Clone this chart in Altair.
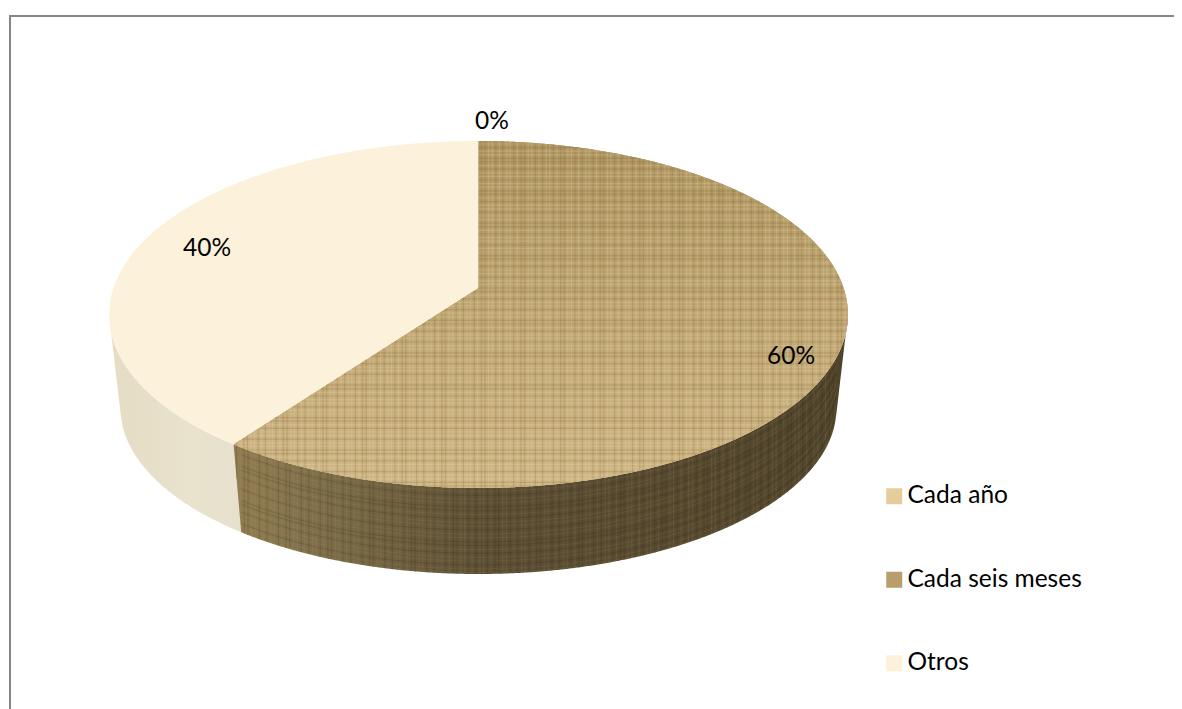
import numpy as np
import pandas as pd
import altair as alt

# chart values
categories = ["Cada año", "Cada seis meses", "Otros"]
shares = [0, 60, 40]
labels = ["0%", "60%", "40%"]
label_left = [492, 791, 207]
label_top = [122, 357, 249]
swatches = ["#e6cc98", "#b79e6b", "#fcf1da"]

W, H = 1166, 701
OX, OY = 8, 8  # page margin
CX, Y_APEX, Y_TOP, Y_FRONT = 478.5, 288.0, 141.0, 488.0
RX = 369.5
LOW_RX, LOW_RY, LOW_BOTTOM = 358.0, 166.0, 574.0

# perspective projection of the pie disc
cy = (Y_TOP + Y_FRONT) / 2
ry = (Y_FRONT - Y_TOP) / 2
fr, bk = Y_FRONT - Y_APEX, Y_APEX - Y_TOP
k = -(fr - bk) / (fr + bk)
b = fr * (1 + k)
a = RX * np.sqrt(1 - k * k)


def project(theta_deg):
    t = np.radians(theta_deg)
    u, v = np.sin(t), -np.cos(t)
    w = 1 + k * v
    return CX + a * u / w, Y_APEX + b * v / w


seam_x, seam_y = project(shares[0] * 3.6 + shares[1] * 3.6)
low_cy = LOW_BOTTOM - LOW_RY
low_seam_x = CX + (seam_x - CX) * LOW_RX / RX
low_seam_y = low_cy + LOW_RY * np.sqrt(1 - ((low_seam_x - CX) / LOW_RX) ** 2)


def top_up(x):
    return cy - ry * np.sqrt(np.clip(1 - ((x - CX) / RX) ** 2, 0, 1))


def top_dn(x):
    return cy + ry * np.sqrt(np.clip(1 - ((x - CX) / RX) ** 2, 0, 1))


def seam(x):
    return Y_APEX + (seam_y - Y_APEX) * (CX - x) / (CX - seam_x)


# lower rim with the straight tangents up to the widest point of the top rim
tt = np.radians(np.linspace(0, 90, 1801))
tx, ty = LOW_RX * np.sin(tt), low_cy - cy + LOW_RY * np.cos(tt)
i_tan = np.argmin(np.where(ty > 0, (RX - tx) / ty, 1e9))
tan_dx, tan_y = tx[i_tan], ty[i_tan] + cy


def low_dn(x):
    d = np.abs(x - CX)
    inside = low_cy + LOW_RY * np.sqrt(np.clip(1 - (d / LOW_RX) ** 2, 0, 1))
    outside = cy + (tan_y - cy) * (RX - d) / (RX - tan_dx)
    return np.where(d <= tan_dx, inside, outside)


def edges(start, stop, extra=()):
    xs = np.arange(start, stop, 1.5)
    return np.unique(np.concatenate([xs, [start, stop], list(extra)]))


# top faces
x_left = edges(CX - RX, CX, [seam_x])
top_otros = pd.DataFrame({
    "x": x_left, "y": top_up(x_left),
    "y2": np.minimum(top_dn(x_left), np.where(x_left >= seam_x, seam(x_left), 1e9)),
    "cat": categories[2]})
x_a = edges(seam_x, CX)
x_b = edges(CX + 0.01, CX + RX)
top_meses = pd.concat([
    pd.DataFrame({"x": x_a, "y": seam(x_a), "y2": top_dn(x_a)}),
    pd.DataFrame({"x": x_b, "y": top_up(x_b), "y2": top_dn(x_b)}),
]).assign(cat=categories[1])

# side walls
x_wl = edges(CX - RX, low_seam_x)
wall_left = pd.DataFrame({"x": x_wl, "y": top_dn(x_wl), "y2": low_dn(x_wl)})
x_wr = edges(seam_x, CX + RX, [low_seam_x])


def wall_bottom(x):
    s = seam_y + (low_seam_y - seam_y) * (x - seam_x) / (low_seam_x - seam_x)
    return np.where(x < low_seam_x, s, low_dn(x))


wall_right = pd.DataFrame({"x": x_wr, "y": top_dn(x_wr), "y2": wall_bottom(x_wr)})

# woven cloth of the middle slice
pattern_v = [0, 1, 0, 0, 1, 1, 0, 1, 0, 1, 1]
pattern_h = [1, 0, 1, 1, 0, 0, 1, 0, 1]
xv = np.arange(seam_x + 3, CX + RX - 1, 3.6)
yv1 = np.where(xv < CX, seam(xv), top_up(xv))
yv2 = top_dn(xv)
threads_v = pd.DataFrame({"x": xv, "y": yv1, "y2": yv2,
                          "k": [pattern_v[i % len(pattern_v)] for i in range(len(xv))]})
rows = []
grid = np.arange(seam_x, CX + RX, 0.5)
gt = np.where(grid < CX, seam(grid), top_up(grid))
gb = top_dn(grid)
for j, yy in enumerate(np.arange(Y_TOP + 3, Y_FRONT - 1, 3.6)):
    m = (gt <= yy) & (gb >= yy)
    if m.any():
        rows.append({"y": yy, "x": grid[m].min(), "x2": grid[m].max(), "k": pattern_h[j % len(pattern_h)]})
threads_h = pd.DataFrame(rows)
xw = np.arange(seam_x + 3, CX + tan_dx, 3.8)
threads_w = pd.DataFrame({"x": xw, "y": top_dn(xw), "y2": wall_bottom(xw),
                          "k": [pattern_v[i % len(pattern_v)] for i in range(len(xw))]})
curves = []
xc = edges(low_seam_x, CX + tan_dx)
for j, f in enumerate(np.arange(0.04, 1, 0.045)):
    curves.append(pd.DataFrame({"x": xc, "y": top_dn(xc) + f * (low_dn(xc) - top_dn(xc)),
                                "row": j, "k": pattern_h[j % len(pattern_h)]}))
curves = pd.concat(curves)

# scales read in page pixels
xs = alt.Scale(domain=[0, W], range=[0 - OX, W - OX])
ys = alt.Scale(domain=[0, H], range=[0 - OY, H - OY])
X = alt.X("x:Q", scale=xs, axis=None)
Y = alt.Y("y:Q", scale=ys, axis=None)
X2 = alt.X2("x2:Q")
Y2 = alt.Y2("y2:Q")


def grad(x1, y1, x2, y2, stops):
    return alt.Gradient(gradient="linear", x1=x1, y1=y1, x2=x2, y2=y2,
                        stops=[alt.GradientStop(offset=o, color=c) for o, c in stops])


layers = [
    alt.Chart(wall_left).mark_area(color=grad(0, 0, 1, 0, [(0, "#e4dcc4"), (0.6, "#e9e2cc"), (1, "#e6e0cd")])).encode(x=X, y=Y, y2=Y2),
    alt.Chart(wall_right).mark_area(color=grad(0, 0, 1, 0, [(0, "#927d52"), (0.12, "#80704a"), (0.4, "#5d4f34"), (1, "#4f432b")])).encode(x=X, y=Y, y2=Y2),
    alt.Chart(threads_w[threads_w.k == 0]).mark_rule(color="#2e2412", opacity=0.16, strokeWidth=1.2).encode(x=X, y=Y, y2=Y2),
    alt.Chart(threads_w[threads_w.k == 1]).mark_rule(color="#b9a679", opacity=0.12, strokeWidth=1.2).encode(x=X, y=Y, y2=Y2),
    alt.Chart(curves[curves.k == 0]).mark_line(color="#2e2412", opacity=0.14, strokeWidth=1.2).encode(x=X, y=Y, detail="row:N"),
    alt.Chart(curves[curves.k == 1]).mark_line(color="#b9a679", opacity=0.09, strokeWidth=1.2).encode(x=X, y=Y, detail="row:N"),
    alt.Chart(pd.concat([top_otros, top_meses])).mark_area().encode(
        x=X, y=Y, y2=Y2,
        color=alt.Color("cat:N", scale=alt.Scale(domain=categories, range=swatches),
                        legend=alt.Legend(title=None, orient="none", legendX=874, legendY=476,
                                          symbolType="square", symbolSize=256, symbolStrokeWidth=0,
                                          symbolOpacity=1, labelFont="Lato", labelFontSize=24.5,
                                          labelColor="#000000", labelOffset=1, rowPadding=58.5,
                                          labelLimit=260, padding=0, columns=1))),
    alt.Chart(top_meses).mark_area(color=grad(0, 0, 0, 1, [(0, "#ae9560"), (0.5, "#bfa672"), (1, "#cfb685")])).encode(x=X, y=Y, y2=Y2),
    alt.Chart(threads_v[threads_v.k == 0]).mark_rule(color="#7c6433", opacity=0.22, strokeWidth=1.2).encode(x=X, y=Y, y2=Y2),
    alt.Chart(threads_v[threads_v.k == 1]).mark_rule(color="#ecdcb6", opacity=0.22, strokeWidth=1.2).encode(x=X, y=Y, y2=Y2),
    alt.Chart(threads_h[threads_h.k == 0]).mark_rule(color="#7c6433", opacity=0.22, strokeWidth=1.2).encode(x=X, x2=X2, y=Y),
    alt.Chart(threads_h[threads_h.k == 1]).mark_rule(color="#ecdcb6", opacity=0.22, strokeWidth=1.2).encode(x=X, x2=X2, y=Y),
    alt.Chart(pd.DataFrame({"x": label_left, "y": label_top, "t": labels})).mark_text(
        font="Lato", fontSize=24.5, color="#000000", align="center", baseline="middle").encode(x=X, y=Y, text="t:N"),
    alt.Chart(pd.DataFrame({"a": [0]})).mark_rule(color="#868686", strokeWidth=2).encode(
        x=alt.value(1), x2=alt.value(W), y=alt.value(8)),
    alt.Chart(pd.DataFrame({"a": [0]})).mark_rule(color="#868686", strokeWidth=2).encode(
        x=alt.value(2), y=alt.value(7), y2=alt.value(H)),
]
chart = alt.layer(*layers).properties(
    width=W, height=H, padding=0, autosize=alt.AutoSizeParams(type="none"),
    background="#ffffff",
).configure_view(stroke=None)
chart.save("out.html", embed_options={"renderer": "svg", "actions": False})
